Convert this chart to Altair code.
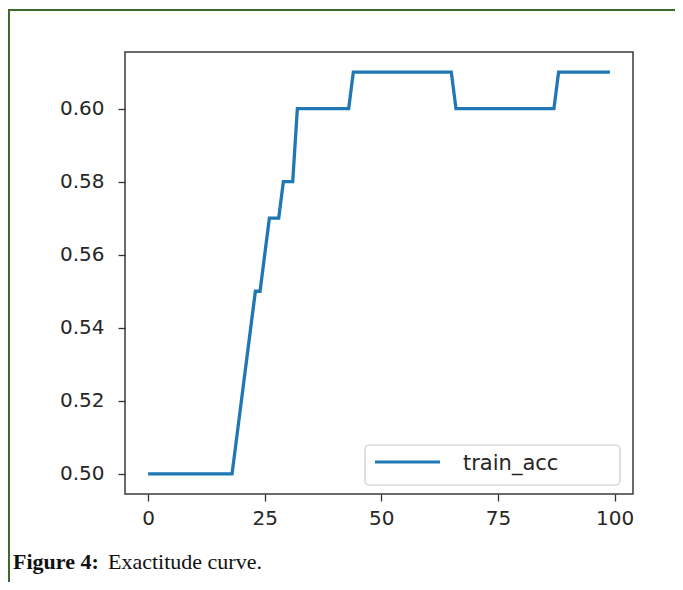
import altair as alt
import pandas as pd

# Data
epochs = list(range(100))
train_acc = [
    0.50, 0.50, 0.50, 0.50, 0.50, 0.50, 0.50, 0.50, 0.50, 0.50,
    0.50, 0.50, 0.50, 0.50, 0.50, 0.50, 0.50, 0.50, 0.50, 0.51,
    0.52, 0.53, 0.54, 0.55, 0.55, 0.56, 0.57, 0.57, 0.57, 0.58,
    0.58, 0.58, 0.60, 0.60, 0.60, 0.60, 0.60, 0.60, 0.60, 0.60,
    0.60, 0.60, 0.60, 0.60, 0.61, 0.61, 0.61, 0.61, 0.61, 0.61,
    0.61, 0.61, 0.61, 0.61, 0.61, 0.61, 0.61, 0.61, 0.61, 0.61,
    0.61, 0.61, 0.61, 0.61, 0.61, 0.61, 0.60, 0.60, 0.60, 0.60,
    0.60, 0.60, 0.60, 0.60, 0.60, 0.60, 0.60, 0.60, 0.60, 0.60,
    0.60, 0.60, 0.60, 0.60, 0.60, 0.60, 0.60, 0.60, 0.61, 0.61,
    0.61, 0.61, 0.61, 0.61, 0.61, 0.61, 0.61, 0.61, 0.61, 0.61,
]
series_name = "train_acc"
x_ticks = [0, 25, 50, 75, 100]
y_ticks = [0.50, 0.52, 0.54, 0.56, 0.58, 0.60]
caption_bold = "Figure 4:"
caption_text = "Exactitude curve."

df = pd.DataFrame({"epoch": epochs, "acc": train_acc})

PLOT_W, PLOT_H = 508, 442
PAD_L, PAD_T = 117, 44
TOTAL_W, TOTAL_H = 667, 574
LINE_COLOR = "#1f77b4"

axis_common = dict(
    grid=False, domain=False, tickSize=7, tickColor="#333333", tickWidth=1.3,
    labelFont="DejaVu Sans", labelFontSize=20, labelColor="#262626", title=None,
)

line = alt.Chart(df).mark_line(strokeWidth=3.3, clip=True, color=LINE_COLOR).encode(
    x=alt.X("epoch:Q", scale=alt.Scale(domain=[-4.95, 103.95], nice=False, zero=False),
            axis=alt.Axis(values=x_ticks, labelPadding=7, **axis_common)),
    y=alt.Y("acc:Q", scale=alt.Scale(domain=[0.4945, 0.6155], nice=False, zero=False),
            axis=alt.Axis(values=y_ticks, format=".2f", labelPadding=14, **axis_common)),
)

one = pd.DataFrame({"k": [0]})

# outer figure border (green frame of the page)
border = alt.Chart(one).mark_rect(
    fill=None, stroke="#3d6b2e", strokeWidth=2, clip=False
).encode(x=alt.value(-116), x2=alt.value(700), y=alt.value(-42), y2=alt.value(620))

# legend box (matplotlib style, lower right)
leg_box = alt.Chart(one).mark_rect(
    fill="white", fillOpacity=0.8, stroke="#cccccc", strokeWidth=1.2, cornerRadius=4
).encode(x=alt.value(240), x2=alt.value(495), y=alt.value(393), y2=alt.value(433))
leg_line = alt.Chart(one).mark_rule(color=LINE_COLOR, strokeWidth=3).encode(
    x=alt.value(250), x2=alt.value(315), y=alt.value(410))
leg_text = alt.Chart(pd.DataFrame({"t": [series_name]})).mark_text(
    align="left", baseline="middle", font="DejaVu Sans", fontSize=21, color="#262626"
).encode(x=alt.value(338), y=alt.value(412), text="t:N")

cap1 = alt.Chart(pd.DataFrame({"t": [caption_bold]})).mark_text(
    align="left", baseline="alphabetic", font="Liberation Serif", fontSize=22,
    fontWeight="bold", color="#111111", clip=False
).encode(x=alt.value(-112), y=alt.value(517), text="t:N")

cap2 = alt.Chart(pd.DataFrame({"t": [caption_text]})).mark_text(
    align="left", baseline="alphabetic", font="Liberation Serif", fontSize=22,
    color="#111111", clip=False
).encode(x=alt.value(-17), y=alt.value(517), text="t:N")

chart = alt.layer(border, line, leg_box, leg_line, leg_text, cap1, cap2).properties(
    width=PLOT_W, height=PLOT_H,
    background="white",
    autosize=alt.AutoSizeParams(type="none"),
    padding={"left": PAD_L, "top": PAD_T,
             "right": TOTAL_W - PAD_L - PLOT_W, "bottom": TOTAL_H - PAD_T - PLOT_H},
).configure_view(stroke="#3a3a3a", strokeWidth=1.5)

chart.save("out.html", embed_options={"renderer": "svg", "actions": False})
